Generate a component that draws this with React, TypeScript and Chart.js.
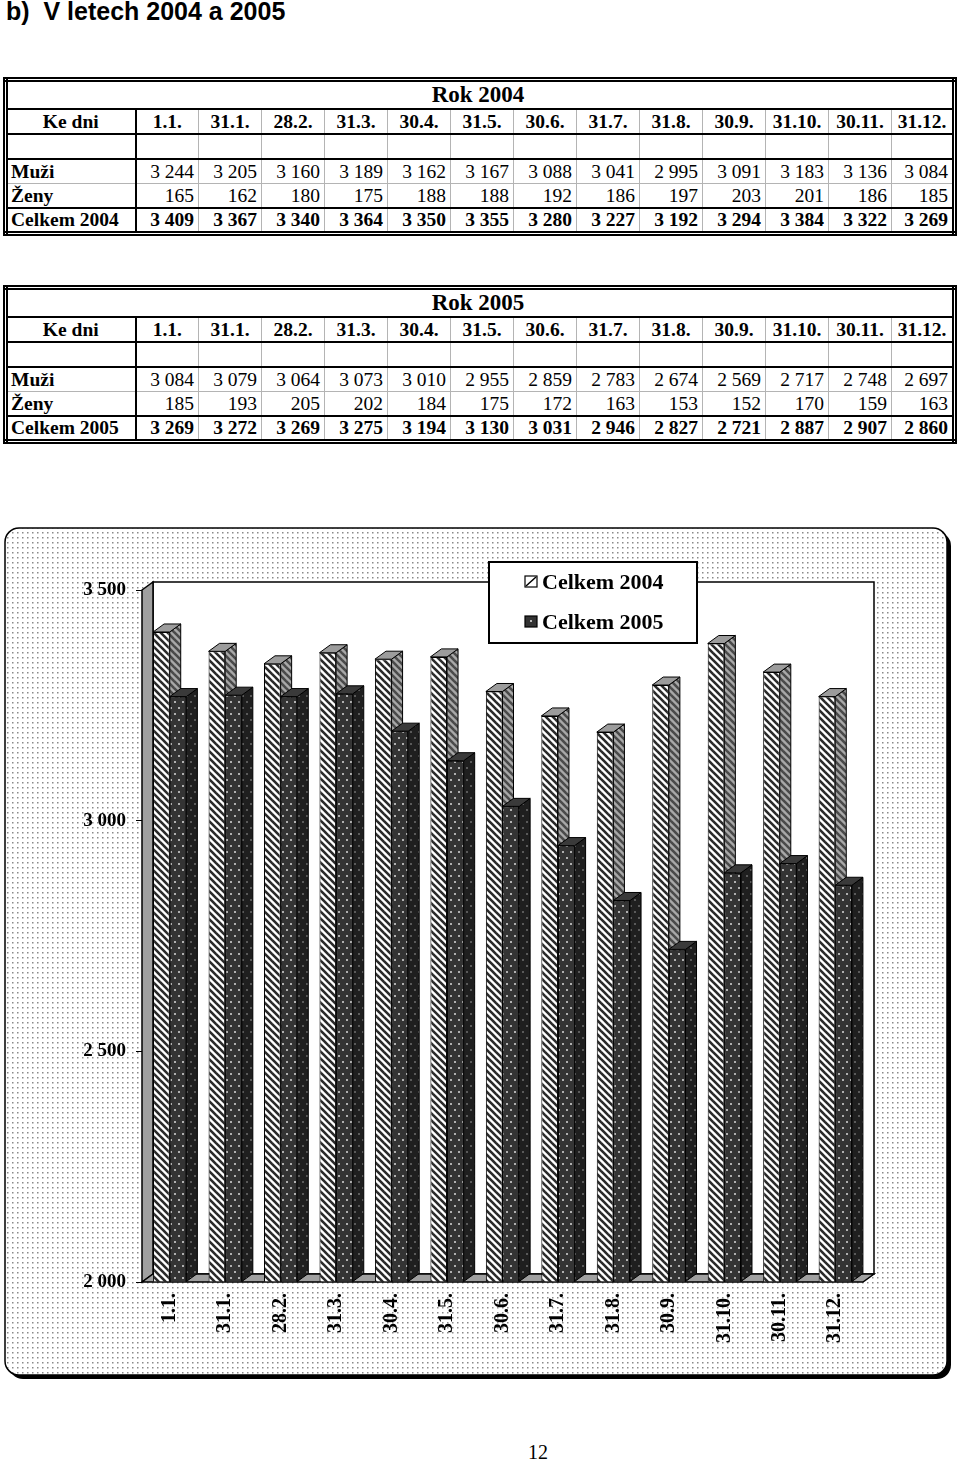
import React, { useEffect, useRef } from "react";
import { Chart, registerables } from "chart.js";
Chart.register(...registerables);

// ---------- data ----------
const dates = ["1.1.", "31.1.", "28.2.", "31.3.", "30.4.", "31.5.", "30.6.", "31.7.", "31.8.", "30.9.", "31.10.", "30.11.", "31.12."];
const muzi2004 = [3244, 3205, 3160, 3189, 3162, 3167, 3088, 3041, 2995, 3091, 3183, 3136, 3084];
const zeny2004 = [165, 162, 180, 175, 188, 188, 192, 186, 197, 203, 201, 186, 185];
const celkem2004 = [3409, 3367, 3340, 3364, 3350, 3355, 3280, 3227, 3192, 3294, 3384, 3322, 3269];
const muzi2005 = [3084, 3079, 3064, 3073, 3010, 2955, 2859, 2783, 2674, 2569, 2717, 2748, 2697];
const zeny2005 = [185, 193, 205, 202, 184, 175, 172, 163, 153, 152, 170, 159, 163];
const celkem2005 = [3269, 3272, 3269, 3275, 3194, 3130, 3031, 2946, 2827, 2721, 2887, 2907, 2860];
const yTicks = [2000, 2500, 3000, 3500];
const seriesLabels = ["Celkem 2004", "Celkem 2005"];

const SERIF = '"Liberation Serif", "Times New Roman", serif';
const SANS = '"Liberation Sans", Arial, sans-serif';

const fmt = (n: number) => String(n).replace(/\B(?=(\d{3})+(?!\d))/g, " ");

// ---------- patterns ----------
function stripePattern(ctx: CanvasRenderingContext2D, bg: string, fg: string, size = 7, lw = 2.6) {
  const c = document.createElement("canvas");
  c.width = size; c.height = size;
  const g = c.getContext("2d")!;
  g.fillStyle = bg; g.fillRect(0, 0, size, size);
  g.strokeStyle = fg; g.lineWidth = lw;
  for (const k of [-size, 0, size]) {
    g.beginPath(); g.moveTo(k - 1, -1); g.lineTo(k + size + 1, size + 1); g.stroke();
  }
  return ctx.createPattern(c, "repeat")!;
}
function dotPattern(ctx: CanvasRenderingContext2D, bg: string, fg: string) {
  const c = document.createElement("canvas");
  c.width = 8; c.height = 12;
  const g = c.getContext("2d")!;
  g.fillStyle = bg; g.fillRect(0, 0, 8, 12);
  g.fillStyle = fg;
  g.fillRect(2, 3, 2, 2);
  g.fillRect(6, 9, 2, 2);
  return ctx.createPattern(c, "repeat")!;
}
function bgPattern(ctx: CanvasRenderingContext2D) {
  const c = document.createElement("canvas");
  c.width = 5; c.height = 5;
  const g = c.getContext("2d")!;
  g.fillStyle = "#fff"; g.fillRect(0, 0, 5, 5);
  g.fillStyle = "#8a8a8a"; g.fillRect(2, 2, 1.5, 1.5);
  return ctx.createPattern(c, "repeat")!;
}

function poly(ctx: CanvasRenderingContext2D, pts: number[][], fill: any, lw = 1) {
  ctx.beginPath();
  ctx.moveTo(pts[0][0], pts[0][1]);
  for (let i = 1; i < pts.length; i++) ctx.lineTo(pts[i][0], pts[i][1]);
  ctx.closePath();
  ctx.fillStyle = fill; ctx.fill();
  ctx.lineWidth = lw; ctx.strokeStyle = "#000"; ctx.stroke();
}
function rrect(ctx: CanvasRenderingContext2D, x0: number, y0: number, x1: number, y1: number, r: number) {
  ctx.beginPath();
  ctx.moveTo(x0 + r, y0);
  ctx.lineTo(x1 - r, y0); ctx.arcTo(x1, y0, x1, y0 + r, r);
  ctx.lineTo(x1, y1 - r); ctx.arcTo(x1, y1, x1 - r, y1, r);
  ctx.lineTo(x0 + r, y1); ctx.arcTo(x0, y1, x0, y1 - r, r);
  ctx.lineTo(x0, y0 + r); ctx.arcTo(x0, y0, x0 + r, y0, r);
  ctx.closePath();
}

const DX = 11, DY = 8;

// ---------- tables ----------
function YearTable({ top, year, muzi, zeny, celkem }: { top: number; year: string; muzi: number[]; zeny: number[]; celkem: number[] }) {
  const gray = "1px solid #b4b4b4";
  const thick = "2px solid #000";
  const base: React.CSSProperties = { padding: "0 4px 0 3px", whiteSpace: "nowrap", verticalAlign: "middle" };
  const numCell = (v: number, i: number, bold: boolean, bottom: string) => (
    <td key={i} style={{ ...base, textAlign: "right", fontWeight: bold ? "bold" : "normal", borderLeft: i === 0 ? thick : gray, borderBottom: bottom }}>{fmt(v)}</td>
  );
  return (
    <table style={{ position: "absolute", left: 3, top, width: 954, borderCollapse: "collapse", tableLayout: "fixed", border: "5px double #000", fontFamily: SERIF, fontSize: 19.5, color: "#000" }}>
      <colgroup>
        <col style={{ width: 130 }} />
        {dates.map((d) => <col key={d} />)}
      </colgroup>
      <tbody>
        <tr style={{ height: 29 }}>
          <td colSpan={14} style={{ ...base, textAlign: "center", fontWeight: "bold", fontSize: 23, borderBottom: thick, paddingLeft: 0 }}>Rok {year}</td>
        </tr>
        <tr style={{ height: 25 }}>
          <td style={{ ...base, textAlign: "center", fontWeight: "bold", borderBottom: thick }}>Ke dni</td>
          {dates.map((d, i) => (
            <td key={d} style={{ ...base, padding: 0, textAlign: "center", fontWeight: "bold", borderLeft: i === 0 ? thick : gray, borderBottom: thick }}>{d}</td>
          ))}
        </tr>
        <tr style={{ height: 25 }}>
          <td style={{ ...base, borderBottom: thick }}></td>
          {dates.map((d, i) => (
            <td key={d} style={{ ...base, borderLeft: i === 0 ? thick : gray, borderBottom: thick }}></td>
          ))}
        </tr>
        <tr style={{ height: 24.5 }}>
          <td style={{ ...base, fontWeight: "bold", borderBottom: gray }}>Muži</td>
          {muzi.map((v, i) => numCell(v, i, false, gray))}
        </tr>
        <tr style={{ height: 24.5 }}>
          <td style={{ ...base, fontWeight: "bold", borderBottom: thick }}>Ženy</td>
          {zeny.map((v, i) => numCell(v, i, false, thick))}
        </tr>
        <tr style={{ height: 24.5 }}>
          <td style={{ ...base, fontWeight: "bold" }}>Celkem {year}</td>
          {celkem.map((v, i) => numCell(v, i, true, "none"))}
        </tr>
      </tbody>
    </table>
  );
}

// ---------- chart ----------
function BarChart3D() {
  const ref = useRef<HTMLCanvasElement>(null);
  useEffect(() => {
    const canvas = ref.current!;
    const ctx = canvas.getContext("2d")!;
    const P = {
      front04: stripePattern(ctx, "#ffffff", "#2a2a2a"),
      side04: stripePattern(ctx, "#a8a8a8", "#4a4a4a"),
      top04: "#9c9c9c",
      front05: dotPattern(ctx, "#343434", "#b0b0b0"),
      side05: dotPattern(ctx, "#1f1f1f", "#5a5a5a"),
      top05: "#3a3a3a",
      bg: bgPattern(ctx),
    };

    const plugin = {
      id: "excel3d",
      beforeDraw(chart: any) {
        const c = chart.ctx as CanvasRenderingContext2D;
        const ca = chart.chartArea;
        c.save();
        const x0 = 5, y0 = 28, x1 = 947, y1 = 875;
        rrect(c, x0 + 4, y0 + 4, x1 + 4, y1 + 4, 14);
        c.fillStyle = "#000"; c.fill();
        rrect(c, x0, y0, x1, y1, 14);
        c.fillStyle = P.bg; c.fill();
        c.lineWidth = 1.5; c.strokeStyle = "#000"; c.stroke();
        const L = ca.left, R = ca.right, T = ca.top, B = ca.bottom;
        poly(c, [[L + DX, T - DY], [R + DX, T - DY], [R + DX, B - DY], [L + DX, B - DY]], "#ffffff", 1.5);
        poly(c, [[L, T], [L + DX, T - DY], [L + DX, B - DY], [L, B]], "#a0a0a0", 1.5);
        poly(c, [[L, B], [L + DX, B - DY], [R + DX, B - DY], [R, B]], "#a0a0a0", 1.5);
        c.restore();
      },
      afterDatasetsDraw(chart: any) {
        const c = chart.ctx as CanvasRenderingContext2D;
        const m0 = chart.getDatasetMeta(0);
        const m1 = chart.getDatasetMeta(1);
        const faces = (el: any, top: any, side: any) => {
          const { x, y, base, width } = el.getProps(["x", "y", "base", "width"], true);
          const l = x - width / 2, r = x + width / 2;
          poly(c, [[r, y], [r + DX, y - DY], [r + DX, base - DY], [r, base]], side);
          poly(c, [[l, y], [r, y], [r + DX, y - DY], [l + DX, y - DY]], top);
        };
        c.save();
        for (let i = 0; i < m0.data.length; i++) {
          faces(m0.data[i], P.top04, P.side04);
          m1.data[i].draw(c);
          faces(m1.data[i], P.top05, P.side05);
        }
        c.restore();
      },
      afterDraw(chart: any) {
        const c = chart.ctx as CanvasRenderingContext2D;
        c.save();
        c.fillStyle = "#fff";
        c.fillRect(489, 62, 208, 81);
        c.lineWidth = 2; c.strokeStyle = "#000";
        c.strokeRect(489, 62, 208, 81);
        const rows = [82, 122];
        rows.forEach((yy, k) => {
          const sx = 525, sy = yy - 6;
          if (k === 0) {
            c.fillStyle = "#fff"; c.fillRect(sx, sy, 12, 11);
            c.strokeStyle = "#000"; c.lineWidth = 1.5;
            c.beginPath(); c.moveTo(sx + 1, sy + 10); c.lineTo(sx + 11, sy + 1); c.stroke();
          } else {
            c.fillStyle = "#333"; c.fillRect(sx, sy, 12, 11);
            c.fillStyle = "#bbb"; c.fillRect(sx + 5, sy + 4, 2, 2);
          }
          c.strokeStyle = "#000"; c.lineWidth = 1.2; c.strokeRect(sx, sy, 12, 11);
          c.fillStyle = "#000";
          c.font = `bold 22px ${SERIF}`;
          c.textBaseline = "middle"; c.textAlign = "left";
          c.fillText(chart.data.datasets[k].label, 542, yy + 1);
        });
        c.restore();
      },
    };

    const chart = new Chart(canvas, {
      type: "bar",
      data: {
        labels: dates,
        datasets: [
          { label: seriesLabels[0], data: celkem2004, base: yTicks[0], backgroundColor: P.front04 as any, borderColor: "#000", borderWidth: 1 } as any,
          { label: seriesLabels[1], data: celkem2005, base: yTicks[0], backgroundColor: P.front05 as any, borderColor: "#000", borderWidth: 1 } as any,
        ],
      },
      options: {
        responsive: false,
        animation: false,
        devicePixelRatio: 1,
        layout: { padding: { left: 0, right: 97, top: 90, bottom: 0 } },
        datasets: { bar: { categoryPercentage: 0.6, barPercentage: 1 } },
        plugins: { legend: { display: false }, tooltip: { enabled: false } },
        scales: {
          x: {
            grid: { display: false, drawTicks: false },
            border: { display: false },
            ticks: { autoSkip: false, minRotation: 90, maxRotation: 90, padding: 11, color: "#000", font: { family: SERIF, size: 20, weight: "bold" } },
            afterFit: (s: any) => { s.height = 118; },
          },
          y: {
            min: 2000,
            max: 3500,
            grid: { drawOnChartArea: false, drawTicks: true, tickLength: 6, color: "#000", lineWidth: 1 },
            border: { display: false },
            afterBuildTicks: (s: any) => { s.ticks = yTicks.map((v) => ({ value: v })); },
            ticks: { padding: 10, color: "#000", font: { family: SERIF, size: 19, weight: "bold" }, callback: (v: any) => fmt(Number(v)) },
            afterFit: (s: any) => { s.width = 142; },
          },
        } as any,
      },
      plugins: [plugin],
    });
    return () => chart.destroy();
  }, []);
  return <canvas ref={ref} width={960} height={900} style={{ position: "absolute", left: 0, top: 500, width: 960, height: 900 }} />;
}

export default function App() {
  return (
    <div style={{ position: "absolute", left: 0, top: 0, width: 960, height: 1464, background: "#fff", overflow: "hidden" }}>
      <div style={{ position: "absolute", left: 6, top: -1, fontFamily: SANS, fontWeight: "bold", fontSize: 25, lineHeight: "25px", whiteSpace: "pre", color: "#000" }}>
        {"b)  V letech 2004 a 2005"}
      </div>
      <YearTable top={77} year="2004" muzi={muzi2004} zeny={zeny2004} celkem={celkem2004} />
      <YearTable top={285} year="2005" muzi={muzi2005} zeny={zeny2005} celkem={celkem2005} />
      <BarChart3D />
      <div style={{ position: "absolute", left: 0, width: 1076, top: 1440, textAlign: "center", fontFamily: SERIF, fontSize: 20, lineHeight: "24px", color: "#000" }}>12</div>
    </div>
  );
}
